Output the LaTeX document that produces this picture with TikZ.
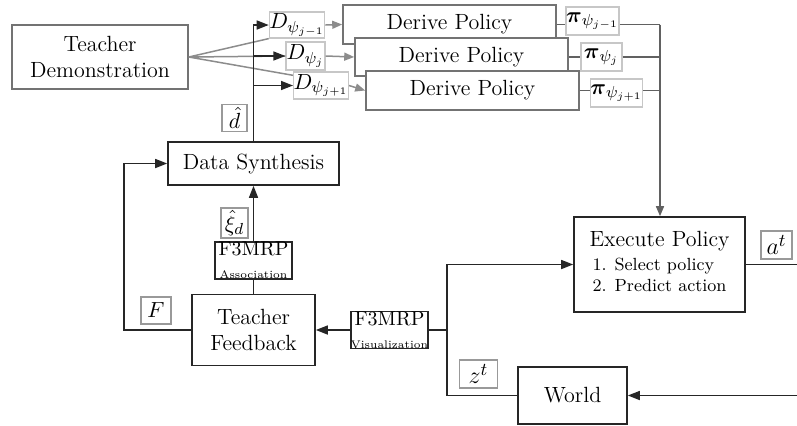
\documentclass[tikz,border=0pt]{standalone}
\usepackage{amsmath}
\usetikzlibrary{arrows.meta}

\begin{document}
\begin{tikzpicture}
[x=0.5pt,y=-0.5pt,>={Triangle[length=6pt,width=4.5pt]},line width=0.75pt,%
  every node/.style={font=\fontsize{11}{13}\selectfont,inner sep=0pt,align=center},
  block/.style={draw=black!85,line width=0.8pt,fill=white},
  greyblock/.style={draw=black!55,line width=0.8pt,fill=white},
  tag/.style={draw=black!40,line width=0.6pt,fill=white},
  bigtag/.style={tag,font=\fontsize{13}{15}\selectfont},
  faint/.style={draw=black!22,line width=0.6pt,fill=white},
  flow/.style={draw=black!85},
  greyflow/.style={draw=black!45,>={Triangle[length=5pt,width=4pt]}},
  busflow/.style={draw=black!62}]
\useasboundingbox (0,0) rectangle (797,425);
%% nodes
\node[greyblock,minimum width=88pt,minimum height=32pt] (demo) at (100,57) {Teacher\\Demonstration};
\node[faint,minimum width=20pt,minimum height=13pt] (Dm1) at (297,25) {$D_{\psi_{j-1}}$};
\node[faint,minimum width=19.5pt,minimum height=14pt] (D0) at (305.5,56) {$D_{\psi_{j}}$};
\node[faint,minimum width=20pt,minimum height=13.5pt] (Dp1) at (321,85.5) {$D_{\psi_{j+1}}$};
\node[greyblock,minimum width=106.5pt,minimum height=19.5pt] (dp1) at (449.5,24.5) {Derive Policy};
\node[greyblock,minimum width=106.5pt,minimum height=19pt] (dp2) at (461.5,57) {Derive Policy};
\node[greyblock,minimum width=106.5pt,minimum height=19.5pt] (dp3) at (472.5,90.5) {Derive Policy};
\node[faint,minimum width=20.5pt,minimum height=14pt] (pim1) at (592.5,21) {$\boldsymbol{\pi}_{\psi_{j-1}}$};
\node[faint,minimum width=20.5pt,minimum height=14pt] (pi0) at (601.5,57) {$\boldsymbol{\pi}_{\psi_{j}}$};
\node[faint,minimum width=20.5pt,minimum height=14pt] (pip1) at (616.5,93) {$\boldsymbol{\pi}_{\psi_{j+1}}$};
\node[block,minimum width=85.5pt,minimum height=21.5pt] (syn) at (253.5,163.5) {Data Synthesis};
\node[tag,minimum width=12.5pt,minimum height=13.5pt] (dhat) at (234.5,118) {$\hat{d}$};
\node[tag,minimum width=13.5pt,minimum height=15pt] (xi) at (234.5,223) {$\hat{\xi}_d$};
\node[block,minimum width=38.5pt,minimum height=16.5pt] (assoc) at (253.5,260.5)
  {{\fontsize{10}{10}\selectfont F3MRP}\\[-1.5pt]{\fontsize{5.5}{5.5}\selectfont Association}};
\node[block,minimum width=61.5pt,minimum height=35.5pt] (fb) at (253.5,330) {Teacher\\Feedback};
\node[tag,minimum width=15pt,minimum height=13.5pt] (F) at (156,310.5) {$F$};
\node[block,minimum width=38.5pt,minimum height=16pt] (vis) at (389.5,330)
  {{\fontsize{10}{10}\selectfont F3MRP}\\[-1.5pt]{\fontsize{5.5}{5.5}\selectfont Visualization}};
\node[block,minimum width=85.5pt,minimum height=47.5pt] (exec) at (659.5,264.5)
  {Execute Policy\\[1pt]{\fontsize{8.8}{10.5}\selectfont\begin{tabular}{@{}l@{}}1. Select policy\\2. Predict action\end{tabular}}};
\node[bigtag,minimum width=15.5pt,minimum height=14pt] (at) at (776.5,245) {$a^t$};
\node[block,minimum width=54.5pt,minimum height=28.5pt] (world) at (572.5,395.5) {World};
\node[bigtag,minimum width=19pt,minimum height=14pt] (zt) at (478.5,374) {$z^t$};
%% free ends
\coordinate (bus) at (660,24.5);
\coordinate (fbl) at (124,330);
\coordinate (split) at (447,330);
\coordinate (aout) at (797,264.5);
\coordinate (win) at (797,395.5);
%% connectors
\draw[greyflow] (demo.east) -- (Dm1.south west)
  (demo.east) -- (D0.west)
  (demo.east) -- (Dp1.160);
\draw[greyflow,->] (Dm1.east) -- (dp1.west);
\draw[greyflow,->] (D0.east) -- (dp2.west);
\draw[greyflow,->] (Dp1.east) -- (dp3.west);
\draw[busflow] (dp1.east) -- (dp1.east -| pim1.west) (dp1.east -| pim1.east) -- (bus);
\draw[busflow] (dp2.east) -- (dp2.east -| pi0.west) (dp2.east -| pi0.east) -- (dp2.east -| bus);
\draw[busflow] (dp3.east) -- (dp3.east -| pip1.west) (dp3.east -| pip1.east) -- (dp3.east -| bus);
\draw[busflow,->,>={Triangle[length=5pt,width=4pt]}] (bus) -- (bus |- exec.north);
\draw[flow,->] (syn.north) |- (Dm1.west);
\draw[flow,->] (syn.north |- D0.west) -- (D0.west);
\draw[flow,->] (syn.north |- Dp1.west) -- (Dp1.west);
\draw[flow] (fb.north) -- (assoc.south);
\draw[flow,->] (assoc.north) -- (syn.south);
\draw[flow,->] (fb.west) -- (fbl) |- (syn.west);
\draw[flow] (split) -- (vis.east);
\draw[flow,->] (vis.west) -- (fb.east);
\draw[flow,->] (world.west) -| (split) |- (exec.west);
\draw[flow] (exec.east) -- (aout);
\draw[flow,->] (win) -- (world.east);
\end{tikzpicture}
\end{document}
